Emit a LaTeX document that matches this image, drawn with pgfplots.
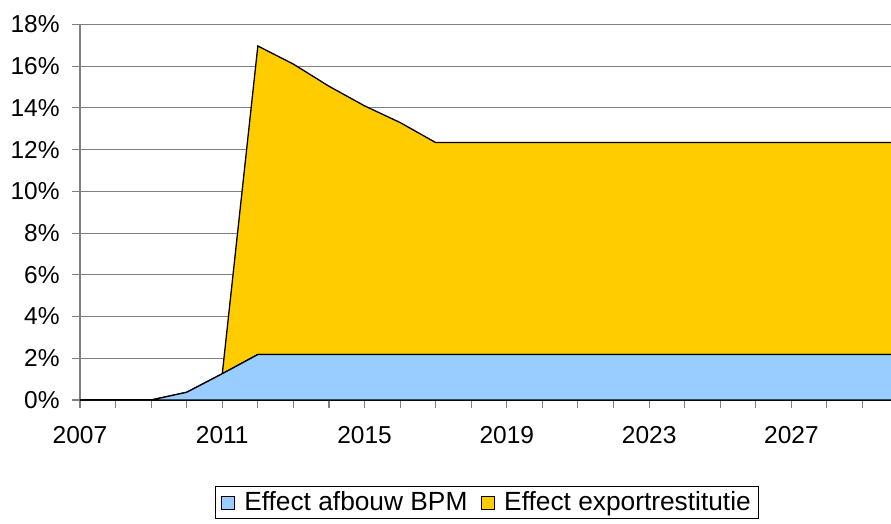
\documentclass[border=0pt]{standalone}
\usepackage{fontspec}
\setmainfont{Liberation Sans}
\usepackage{pgfplots}
\pgfplotsset{compat=1.18}
\definecolor{bpmblue}{HTML}{99CCFF}
\definecolor{expyellow}{HTML}{FFCC00}
\definecolor{gridgray}{HTML}{808080}
\begin{document}
\fontsize{24.5bp}{29bp}\selectfont
\begin{tikzpicture}
\begin{axis}[
  at={(0,0)}, anchor=south west,
  scale only axis, width=811bp, height=375.5bp,
  xmin=2007, xmax=2029.8, ymin=0, ymax=18,
  axis x line=bottom, axis y line=left,
  x axis line style={-, black, line width=1.3bp},
  y axis line style={-, gridgray, line width=1.3bp},
  xtick={2007,2011,...,2027}, minor xtick={2008,...,2029},
  ytick={0,2,...,18},
  ymajorgrids, major grid style={gridgray, line width=1.1bp},
  tick align=outside, major tick length=8bp, minor tick length=8bp,
  every tick/.style={gridgray, line width=1.1bp},
  xticklabel style={/pgf/number format/1000 sep={}, yshift=-10bp},
  yticklabel={\pgfmathprintnumber{\tick}\%},
  yticklabel style={xshift=-4bp},
  /pgf/number format/assume math mode=true,
  tick label style={font=\fontsize{24.5bp}{29bp}\selectfont},
  stack plots=y,
  legend columns=2,
  legend style={at={(axis description cs:0.502,-0.273)}, anchor=center,
    draw=black, line width=0.8bp, font=\fontsize{26.3bp}{30bp}\selectfont,
    inner xsep=6bp, inner ysep=3bp,
    /tikz/every odd column/.append style={column sep=7bp},
    /tikz/every even column/.append style={column sep=12bp}},
  legend image code/.code={\draw[#1, draw=black, line width=0.8bp] (0bp,-7bp) rectangle (13bp,6bp);},
]
\addplot[fill=bpmblue, draw=black, line width=1.3bp] coordinates {
(2007,0) (2008,0) (2009,0) (2010,0.37) (2011,1.26) (2012,2.18) (2013,2.18) (2014,2.18)
(2015,2.18) (2016,2.18) (2017,2.18) (2018,2.18) (2019,2.18) (2020,2.18) (2021,2.18)
(2022,2.18) (2023,2.18) (2024,2.18) (2025,2.18) (2026,2.18) (2027,2.18) (2028,2.18)
(2029,2.18) (2030,2.18)} \closedcycle;
\addlegendentry{Effect afbouw BPM}
\addplot[fill=expyellow, draw=black, line width=1.3bp] coordinates {
(2007,0) (2008,0) (2009,0) (2010,0) (2011,0) (2012,14.79) (2013,13.92) (2014,12.86)
(2015,11.92) (2016,11.12) (2017,10.16) (2018,10.16) (2019,10.16) (2020,10.16) (2021,10.16)
(2022,10.16) (2023,10.16) (2024,10.16) (2025,10.16) (2026,10.16) (2027,10.16) (2028,10.16)
(2029,10.16) (2030,10.16)} \closedcycle;
\addlegendentry{Effect exportrestitutie}
\end{axis}
\pgfresetboundingbox
\useasboundingbox (-80bp,-124bp) rectangle (811bp,400bp);
\end{tikzpicture}
\end{document}
